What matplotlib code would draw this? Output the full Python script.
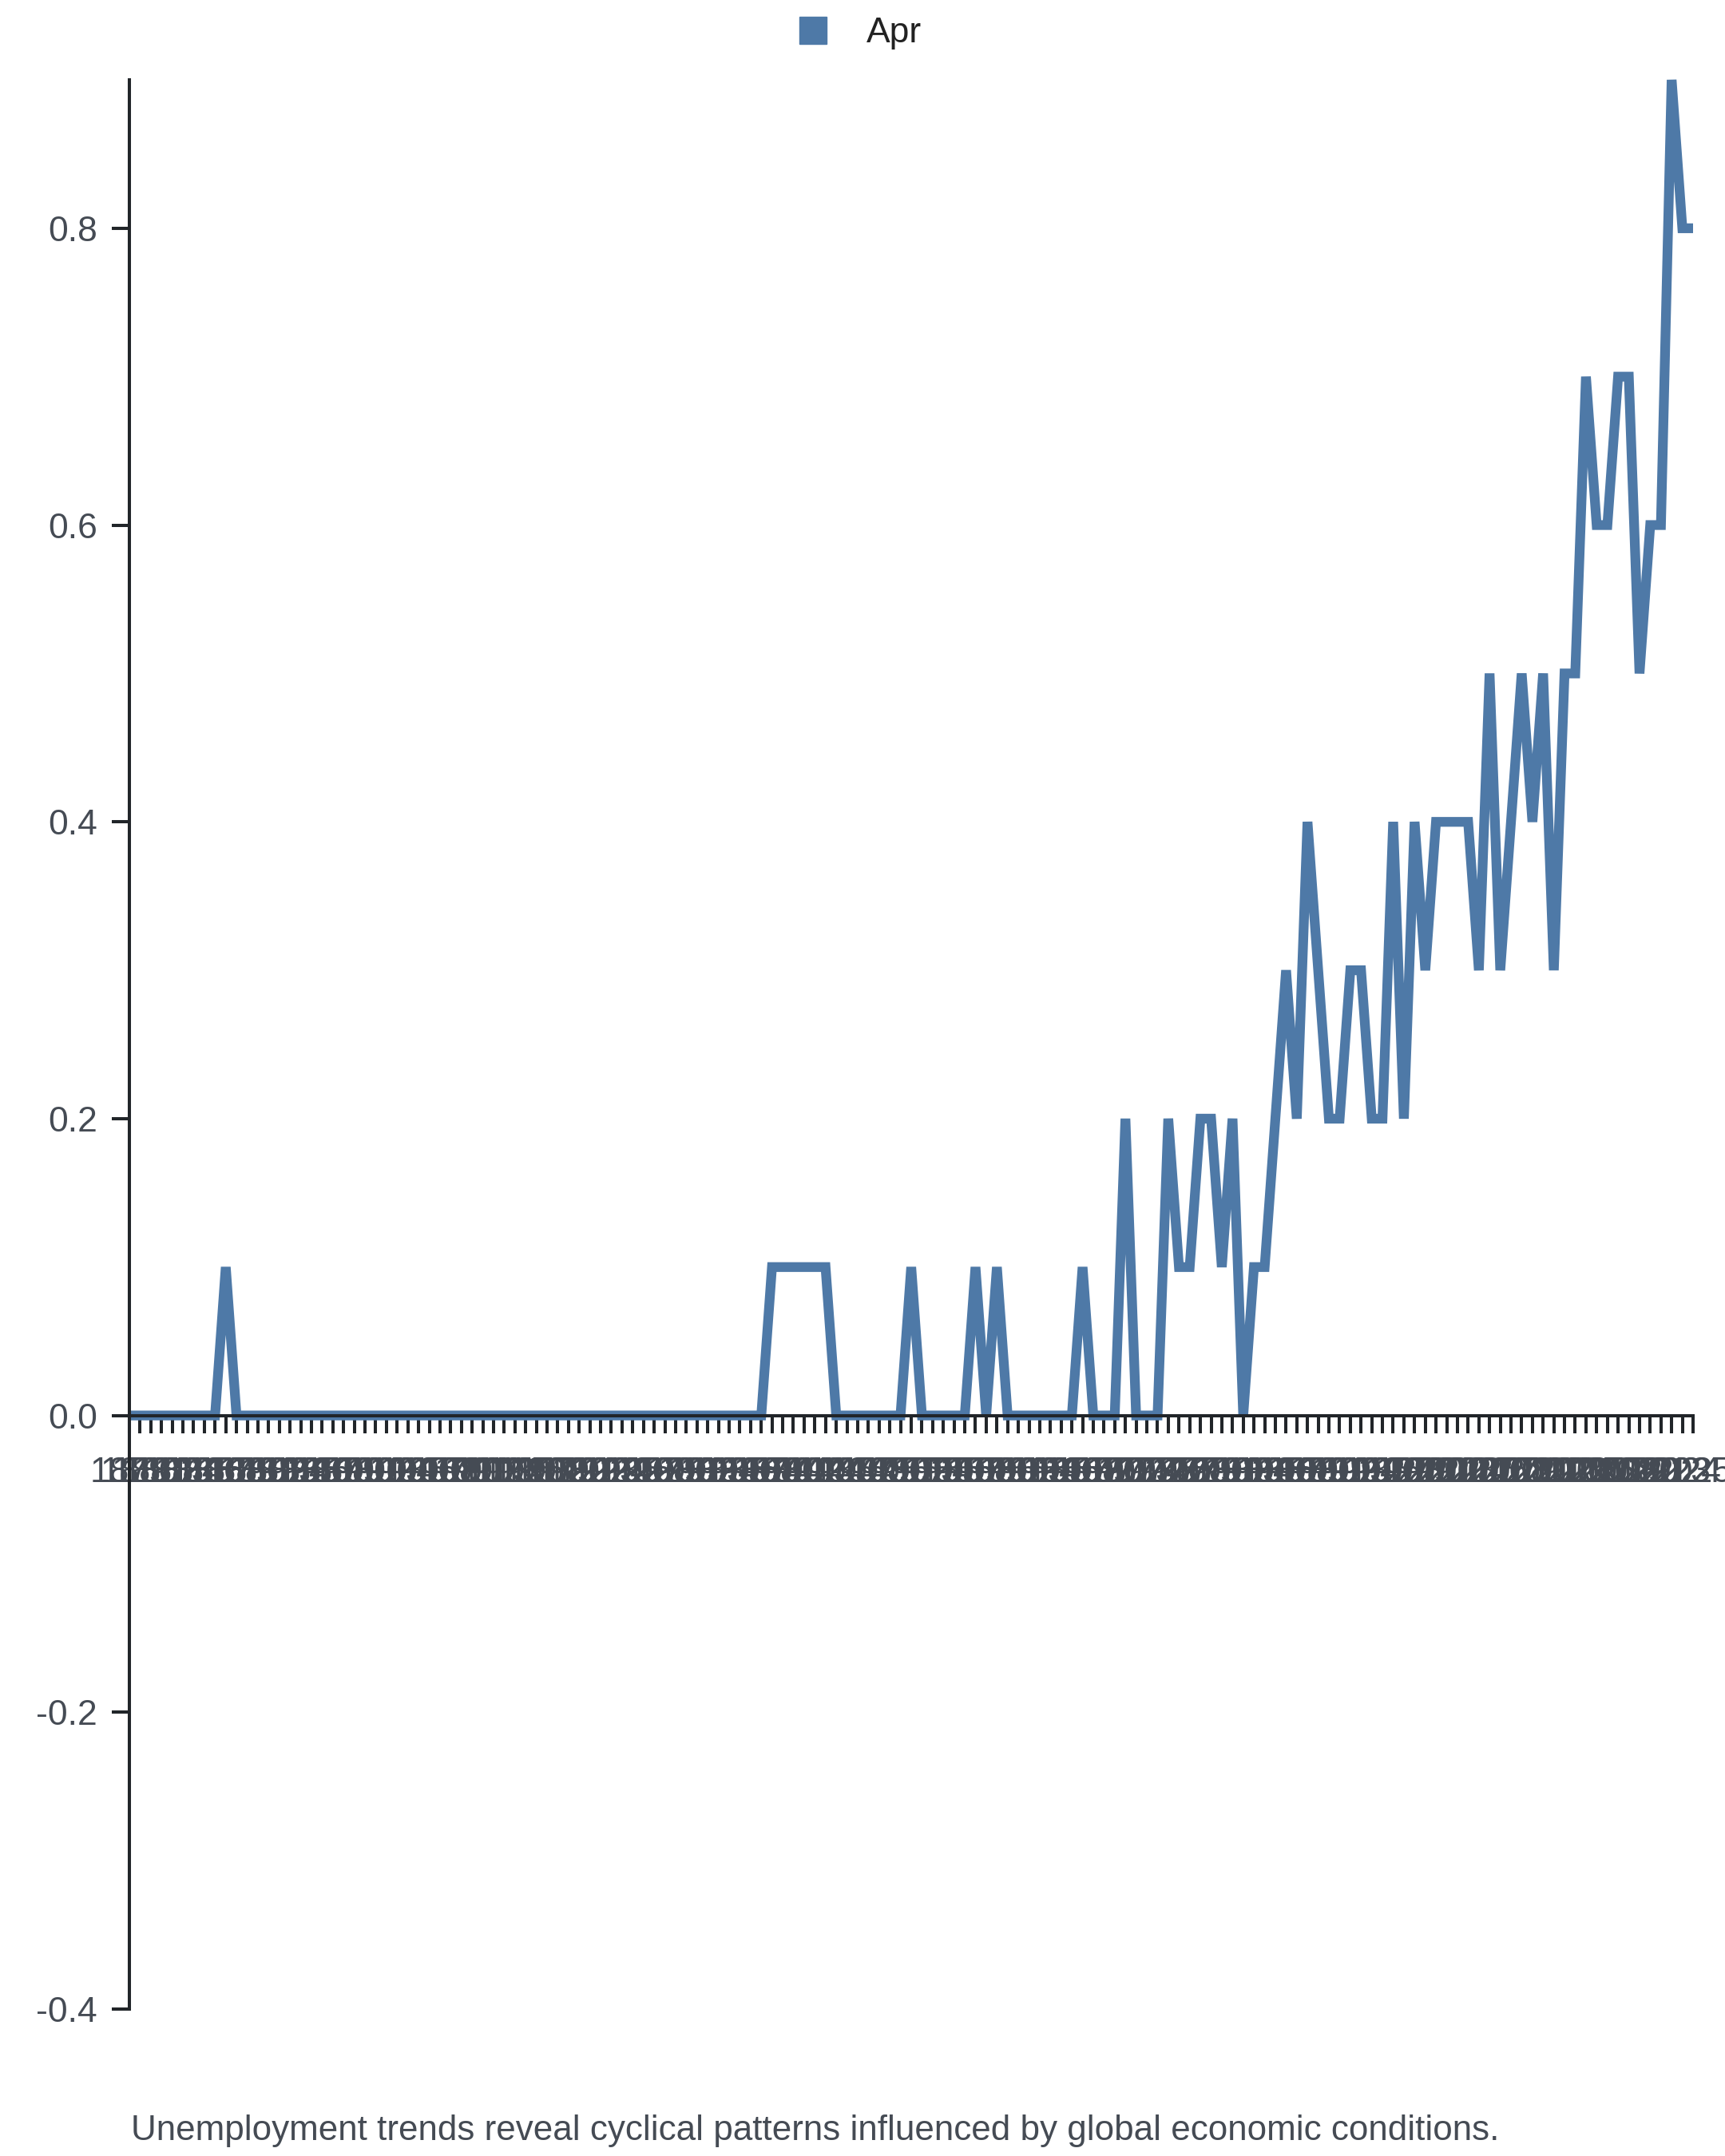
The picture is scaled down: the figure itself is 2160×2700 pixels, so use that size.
import matplotlib
matplotlib.use("Agg")
import matplotlib.pyplot as plt
from matplotlib.lines import Line2D

# Categories: one point per year
years = list(range(1879, 2026))

# April values
apr_values = [
    0.0, 0.0, 0.0, 0.0, 0.0, 0.0, 0.0, 0.0, 0.0, 0.1,
    0.0, 0.0, 0.0, 0.0, 0.0, 0.0, 0.0, 0.0, 0.0, 0.0,
    0.0, 0.0, 0.0, 0.0, 0.0, 0.0, 0.0, 0.0, 0.0, 0.0,
    0.0, 0.0, 0.0, 0.0, 0.0, 0.0, 0.0, 0.0, 0.0, 0.0,
    0.0, 0.0, 0.0, 0.0, 0.0, 0.0, 0.0, 0.0, 0.0, 0.0,
    0.0, 0.0, 0.0, 0.0, 0.0, 0.0, 0.0, 0.0, 0.0, 0.0,
    0.1, 0.1, 0.1, 0.1, 0.1, 0.1, 0.0, 0.0, 0.0, 0.0,
    0.0, 0.0, 0.0, 0.1, 0.0, 0.0, 0.0, 0.0, 0.0, 0.1,
    0.0, 0.1, 0.0, 0.0, 0.0, 0.0, 0.0, 0.0, 0.0, 0.1,
    0.0, 0.0, 0.0, 0.2, 0.0, 0.0, 0.0, 0.2, 0.1, 0.1,
    0.2, 0.2, 0.1, 0.2, 0.0, 0.1, 0.1, 0.2, 0.3, 0.2,
    0.4, 0.3, 0.2, 0.2, 0.3, 0.3, 0.2, 0.2, 0.4, 0.2,
    0.4, 0.3, 0.4, 0.4, 0.4, 0.4, 0.3, 0.5, 0.3, 0.4,
    0.5, 0.4, 0.5, 0.3, 0.5, 0.5, 0.7, 0.6, 0.6, 0.7,
    0.7, 0.5, 0.6, 0.6, 0.9, 0.8, 0.8,
]

series_name = "Apr"
y_ticks = [-0.4, -0.2, 0.0, 0.2, 0.4, 0.6, 0.8]
caption = "Unemployment trends reveal cyclical patterns influenced by global economic conditions."

line_color = "#4e79a7"
axis_color = "#212529"
label_color = "#454b54"

plt.rcParams["font.family"] = ["Liberation Sans", "DejaVu Sans"]
plt.rcParams["axes.unicode_minus"] = False

W, H = 2160, 2700
fig = plt.figure(figsize=(W / 100, H / 100), dpi=100)
ax = fig.add_axes([162 / W, 1 - 2516 / H, (2120 - 162) / W, (2516 - 100) / H])

x = list(range(len(years)))
ax.plot(x, apr_values, color=line_color, lw=8.8, solid_joinstyle="miter",
        solid_capstyle="butt", clip_on=False, zorder=2)

ax.set_xlim(0, len(years) - 1)
ax.set_ylim(-0.4, 0.9)

for side in ("top", "right"):
    ax.spines[side].set_visible(False)
ax.spines["bottom"].set_position(("data", 0))
for side in ("left", "bottom"):
    ax.spines[side].set_color(axis_color)
    ax.spines[side].set_linewidth(2.9)

ax.set_xticks(x)
ax.set_xticklabels([str(y) for y in years])
ax.set_yticks(y_ticks)
ax.set_yticklabels([f"{v:.1f}" for v in y_ticks])

ax.tick_params(axis="x", length=16, width=2.9, pad=21, labelsize=32,
               color=axis_color, labelcolor=label_color)
ax.tick_params(axis="y", length=16, width=2.9, pad=13, labelsize=32,
               color=axis_color, labelcolor=label_color)

# legend at the top
fig.add_artist(Line2D([1018 / W], [1 - 38 / H], marker="s", markersize=25,
                      color=line_color, linestyle="none", transform=fig.transFigure))
fig.text(1085 / W, 1 - 53 / H, series_name, fontsize=32, color="#222222", va="baseline")

# caption
fig.text(164 / W, 1 - 2680 / H, caption, fontsize=31.7, color=label_color, va="baseline")

fig.savefig("out.png", dpi=100)
